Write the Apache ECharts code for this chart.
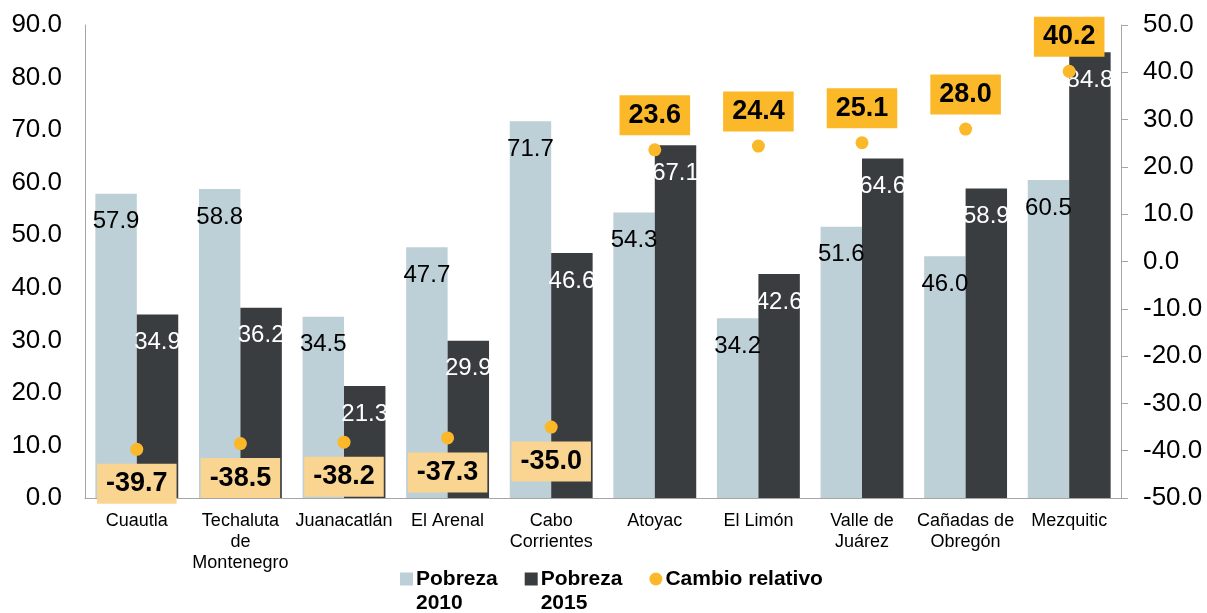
<!DOCTYPE html>
<html>
<head>
<meta charset="utf-8">
<script src="https://cdn.jsdelivr.net/npm/echarts@6/dist/echarts.min.js"></script>
<style>
  html, body { margin: 0; padding: 0; background: #fff; }
  #main { width: 1207px; height: 613px; }
</style>
</head>
<body>
<div id="main"></div>
<script>
// municipios
var categories = [
  "Cuautla", "Techaluta\nde\nMontenegro", "Juanacatlán", "El Arenal",
  "Cabo\nCorrientes", "Atoyac", "El Limón", "Valle de\nJuárez",
  "Cañadas de\nObregón", "Mezquitic"
];
var pobreza2010 = [57.9, 58.8, 34.5, 47.7, 71.7, 54.3, 34.2, 51.6, 46.0, 60.5];
var pobreza2015 = [34.9, 36.2, 21.3, 29.9, 46.6, 67.1, 42.6, 64.6, 58.9, 84.8];
var cambio = [-39.7, -38.5, -38.2, -37.3, -35.0, 23.6, 24.4, 25.1, 28.0, 40.2];

var font = "Liberation Sans, Arial, sans-serif";
var axisGray = "#A6A6A6";

// etiquetas arriba o abajo segun el signo
var cambioData = cambio.map(function (v) {
  return {
    value: v,
    label: {
      position: v < 0 ? "bottom" : "top",
      backgroundColor: v < 0 ? "#FAD491" : "#FBB829"
    }
  };
});

var chart = echarts.init(document.getElementById("main"));
chart.setOption({
  animation: false,
  textStyle: { fontFamily: font },
  grid: { left: 85, right: 86, top: 25, bottom: 115 },
  legend: {
    left: 400,
    top: 543,
    padding: 0,
    itemWidth: 13,
    itemHeight: 13,
    itemGap: 27,
    // linea en blanco arriba para que el icono quede junto a la primera linea
    formatter: function (name) {
      return name.indexOf("\n") >= 0 ? " \n" + name : name;
    },
    textStyle: {
      fontFamily: font,
      fontSize: 21,
      fontWeight: "bold",
      color: "#000",
      lineHeight: 24,
      padding: [0, 0, 0, -2]
    },
    data: [
      { name: "Pobreza\n2010", icon: "rect" },
      { name: "Pobreza\n2015", icon: "rect" },
      { name: "Cambio relativo", icon: "circle" }
    ]
  },
  xAxis: {
    type: "category",
    data: categories,
    axisTick: { show: false },
    axisLine: { lineStyle: { color: axisGray } },
    axisLabel: {
      interval: 0,
      margin: 13,
      fontSize: 18,
      lineHeight: 21,
      color: "#000",
      fontFamily: font
    }
  },
  yAxis: [
    {
      type: "value",
      min: 0,
      max: 90,
      interval: 10,
      splitLine: { show: false },
      axisTick: { show: false },
      axisLine: { show: true, lineStyle: { color: axisGray } },
      axisLabel: {
        margin: 23,
        fontSize: 26,
        color: "#000",
        fontFamily: font,
        formatter: function (v) { return v.toFixed(1); }
      }
    },
    {
      type: "value",
      position: "right",
      min: -50,
      max: 50,
      interval: 10,
      splitLine: { show: false },
      axisTick: { show: true, length: 7, lineStyle: { color: axisGray } },
      axisLine: { show: true, lineStyle: { color: axisGray } },
      axisLabel: {
        margin: 22,
        fontSize: 26,
        color: "#000",
        fontFamily: font,
        formatter: function (v) { return v.toFixed(1); }
      }
    }
  ],
  series: [
    {
      name: "Pobreza\n2010",
      type: "bar",
      data: pobreza2010,
      barCategoryGap: "20%",
      barGap: "0%",
      itemStyle: { color: "#BDCFD7" },
      label: {
        show: true,
        position: "insideTop",
        distance: 16,
        fontSize: 24,
        color: "#000",
        fontFamily: font,
        formatter: function (p) { return p.value.toFixed(1); }
      }
    },
    {
      name: "Pobreza\n2015",
      type: "bar",
      data: pobreza2015,
      itemStyle: { color: "#3A3D40" },
      label: {
        show: true,
        position: "insideTop",
        distance: 16,
        fontSize: 24,
        color: "#fff",
        fontFamily: font,
        formatter: function (p) { return p.value.toFixed(1); }
      }
    },
    {
      name: "Cambio relativo",
      type: "scatter",
      yAxisIndex: 1,
      data: cambioData,
      symbolSize: 13,
      itemStyle: { color: "#FBB829", opacity: 1 },
      z: 5,
      label: {
        show: true,
        distance: 8,
        fontSize: 27,
        fontWeight: "bold",
        color: "#000",
        lineHeight: 28,
        padding: [6, 9],
        fontFamily: font,
        formatter: function (p) { return p.value.toFixed(1); }
      }
    }
  ]
});
</script>
</body>
</html>
